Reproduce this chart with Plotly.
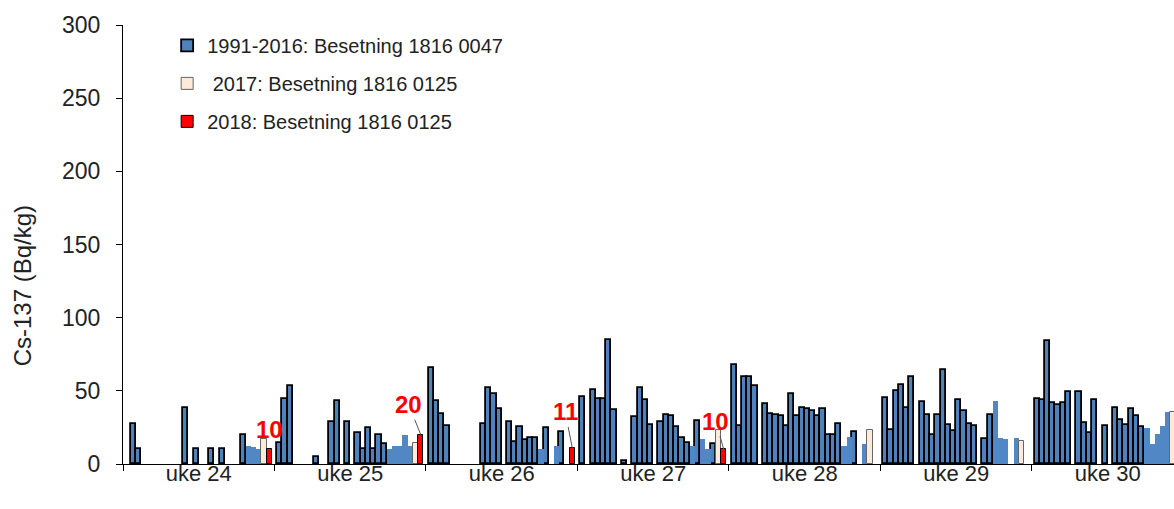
import plotly.graph_objects as go

# uke 24 .. uke 30, each week holds the years 1991-2018
weeks = ["uke 24", "uke 25", "uke 26", "uke 27", "uke 28", "uke 29", "uke 30"]

# 1991-2016 (index = year - 1991), None = no sample
uke24 = [None, 27, 10, None, None, None, None, None, None, None, None, 38.5, None, 10, None, None, 10, None, 10, None, None, None, 19.5, 12.5, 11.5, 10]
uke25 = [14.5, 44.5, 53.5, None, None, None, None, 5, None, None, 28.5, 43, None, 29, None, 21.5, 10.5, 24.5, 10.5, 20, 14, 10, 12.5, 12, 20, 12]
uke26 = [65.5, 43, 34.5, 26, None, None, None, None, None, None, 27, 52, 48, 37.5, None, 28.5, 15, 25, 16.5, 17.5, 17.5, 10, 24.5, None, 12.5, 22]
uke27 = [46, None, 50.5, 44.5, 44.5, 84.5, 37, None, 2, None, 32, 52, 43.5, 26.5, None, 28.5, 33.5, 32.5, 25, 17.5, 14.5, 12, 29.5, 17, 10, 13.5]
uke28 = [67.5, 26, 59.5, 59.5, 53.5, None, 41, 34.5, 33.5, 32.5, 26, 48, 33, 38.5, 37.5, 36, 32.5, 37.5, 20, 20, 27.5, 12, 18.5, 22, None, 13.5]
uke29 = [45, 23, 50, 54, 38.5, 59.5, None, 42.5, 33.5, 20, 33.5, 64.5, 26.5, 22.5, 43.5, 36, 27, 26, None, 17, 33.5, 43, 17.5, 17, None, 17.5]
uke30 = [44.5, 43.5, 84, 42, 40, 42, 49.5, None, 49.5, 28, 21, 43.5, None, 26, None, 38.5, 30, 26.5, 37.5, 32.5, 25.5, 24.5, 14, 20.5, 26, 35.5]
older = [uke24, uke25, uke26, uke27, uke28, uke29, uke30]

# years drawn without the black outline (index = year - 1991)
plain = [[23, 24, 25], [21, 22, 23, 24, 25], [21, 24], [21, 23, 24],
         [21, 22, 25], [21, 22, 23, 25], [21, 22, 23, 24, 25]]

y2017 = [17, 14.5, None, 23.5, 23.5, 15.5, 35.5]
y2018 = [10, 20, 11, 10, None, None, None]
# label offsets (px) for the 2018 values, None = label right above the bar
label_off = [None, (-12, -30), (-7, -36), (-8, -28), None, None, None]

SLOTS = 29  # 28 years + half a slot on each side of a week

def xpos(w, j):
    return w * SLOTS + 1 + j

xd, yd, xp, yp = [], [], [], []
for w, vals in enumerate(older):
    for j, v in enumerate(vals):
        if v is None:
            continue
        if j in plain[w]:
            xp.append(xpos(w, j)); yp.append(v)
        else:
            xd.append(xpos(w, j)); yd.append(v)

x17 = [xpos(w, 26) for w, v in enumerate(y2017) if v is not None]
v17 = [v for v in y2017 if v is not None]
x18 = [xpos(w, 27) for w, v in enumerate(y2018) if v is not None]
v18 = [v for v in y2018 if v is not None]

fig = go.Figure()
fig.add_trace(go.Bar(x=xd, y=yd, width=1, name="1991-2016: Besetning 1816 0047",
                     marker=dict(color="#4F81BD", line=dict(color="black", width=1.8)),
                     legendgroup="a"))
fig.add_trace(go.Bar(x=xp, y=yp, width=1, showlegend=False,
                     marker=dict(color="#5287C6", line=dict(width=0))))
fig.add_trace(go.Bar(x=x17, y=v17, width=1, name=" 2017: Besetning 1816 0125",
                     marker=dict(color="#FDEADA", line=dict(color="#666666", width=1)),
                     legendgroup="b"))
fig.add_trace(go.Bar(x=x18, y=v18, width=1, name="2018: Besetning 1816 0125",
                     marker=dict(color="#FF0000", line=dict(color="black", width=1)),
                     legendgroup="c"))

for w, v in enumerate(y2018):
    if v is None:
        continue
    off = label_off[w]
    if off:
        fig.add_annotation(x=xpos(w, 27), y=v, text=f"<b>{v}</b>", showarrow=True,
                           arrowhead=0, arrowwidth=1, arrowcolor="#555555",
                           ax=off[0], ay=off[1], font=dict(color="#FF0000", size=24))
    else:
        fig.add_annotation(x=xpos(w, 27), y=v, text=f"<b>{v}</b>", showarrow=False,
                           yanchor="bottom", yshift=4, font=dict(color="#FF0000", size=24))

fig.add_annotation(xref="paper", yref="paper", x=-0.096, y=0.405, text="Cs-137 (Bq/kg)",
                   xanchor="center", yanchor="middle",
                   textangle=-90, showarrow=False, font=dict(size=24))

fig.update_layout(
    width=1174, height=509,
    margin=dict(l=123, r=0, t=25, b=45),
    paper_bgcolor="white", plot_bgcolor="white",
    barmode="overlay", bargap=0,
    font=dict(family="Arial, Liberation Sans", size=22, color="#222222"),
    legend=dict(x=0.042, y=0.998, xanchor="left", yanchor="top",
                font=dict(size=20), tracegroupgap=9, itemwidth=30,
                bgcolor="rgba(0,0,0,0)"),
    xaxis=dict(range=[0, 1051 / 5.224], tickmode="array",
               tickvals=[w * SLOTS + 14.5 for w in range(len(weeks))], ticktext=weeks,
               ticks="", showline=True, linecolor="black", linewidth=1,
               showgrid=False, zeroline=False, tickfont=dict(size=22),
               ticklabelstandoff=-10,
               minor=dict(tickmode="linear", tick0=0, dtick=SLOTS, ticks="outside",
                          ticklen=6, tickcolor="black", showgrid=False)),
    yaxis=dict(range=[0, 300], dtick=50, ticks="outside", ticklen=6, tickcolor="black",
               showline=True, linecolor="black", linewidth=1, showgrid=False,
               zeroline=False, tickfont=dict(size=23), ticklabelstandoff=11),
)

# drop the default 8 px body margin so the figure fills the window exactly
fig.write_html("out.html", config={"displayModeBar": False},
               post_script="document.body.style.margin = '0';")
